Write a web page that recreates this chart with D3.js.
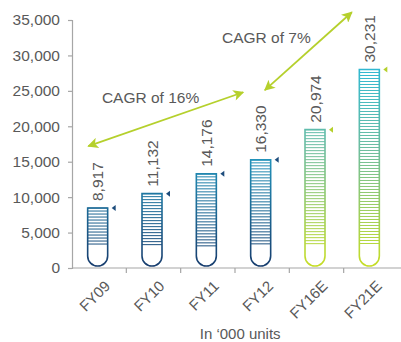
<!DOCTYPE html>
<html>
<head>
<meta charset="utf-8">
<script src="https://cdn.jsdelivr.net/npm/d3@7"></script>
<style>
  html, body { margin: 0; padding: 0; background: #fff; }
  svg { display: block; }
  text { font-family: "Liberation Sans", Arial, sans-serif; fill: #595959; }
</style>
</head>
<body>
<svg id="chart" width="401" height="342"></svg>
<script>
// Vehicle volumes, thousand units
const categories = ["FY09", "FY10", "FY11", "FY12", "FY16E", "FY21E"];
const units = [8917, 11132, 14176, 16330, 20974, 30231];
const projected = [false, false, false, false, true, true];
const yTicks = [0, 5000, 10000, 15000, 20000, 25000, 30000, 35000];

// Growth annotations: [category, band offset, axis value] for each arrow end
const cagrLabels = ["CAGR of 16%", "CAGR of 7%"];
const cagrFrom = [["FY09", -0.2, 17200], ["FY12", 0.05, 25100]];
const cagrTo = [["FY12", -0.35, 24800], ["FY21E", -0.35, 36100]];
const cagrText = [["FY09", 0.05, 23300], ["FY11", 0.26, 31750]];
const unitNote = "In \u2018000 units";

const svg = d3.select("#chart");
const axisColor = "#a6a6a6";

const x = d3.scaleBand().domain(categories).range([72, 398]).padding(0);
const y = d3.scaleLinear().domain([0, 35000]).range([268, 20]);
// tubes fill on their own slightly compressed scale, resting on the baseline
const tubeY = d3.scaleLinear().domain([0, 35000]).range([266, 38.5]);

const cx = (cat, off = 0) => x(cat) + x.bandwidth() / 2 + off * x.bandwidth();

// gradients
const defs = svg.append("defs");
const blue = defs.append("linearGradient").attr("id", "gBlue")
  .attr("gradientUnits", "userSpaceOnUse").attr("x1", 0).attr("x2", 0)
  .attr("y1", tubeY(23000)).attr("y2", tubeY(0));
blue.append("stop").attr("offset", 0).attr("stop-color", "#27b4d8");
blue.append("stop").attr("offset", 1).attr("stop-color", "#173d6e");
const green = defs.append("linearGradient").attr("id", "gGreen")
  .attr("gradientUnits", "userSpaceOnUse").attr("x1", 0).attr("x2", 0)
  .attr("y1", tubeY(33000)).attr("y2", tubeY(0));
green.append("stop").attr("offset", 0).attr("stop-color", "#22b7dc");
green.append("stop").attr("offset", 0.45).attr("stop-color", "#6dbda0");
green.append("stop").attr("offset", 1).attr("stop-color", "#c6dd26");

const lime = "#b5d02c";
const marker = defs.append("marker").attr("id", "head")
  .attr("viewBox", "0 0 10 10").attr("refX", 9).attr("refY", 5)
  .attr("markerWidth", 7).attr("markerHeight", 6)
  .attr("markerUnits", "strokeWidth")
  .attr("orient", "auto-start-reverse");
marker.append("path").attr("d", "M0,0 L10,5 L0,10 L2.5,5 Z").attr("fill", lime);

// y axis
const yAxis = svg.append("g").attr("transform", "translate(72,0)")
  .call(d3.axisLeft(y).tickValues(yTicks).tickSize(4).tickPadding(8)
    .tickFormat(d3.format(",")));
yAxis.select(".domain").attr("stroke", axisColor).attr("stroke-width", 1.2);
yAxis.selectAll(".tick line").attr("stroke", axisColor).attr("stroke-width", 1.2);
yAxis.selectAll(".tick text").style("font-size", "15.5px").attr("fill", "#595959")
  .style("font-family", "'Liberation Sans', Arial, sans-serif");

// x axis
svg.append("line").attr("x1", 72).attr("x2", 401)
  .attr("y1", y(0)).attr("y2", y(0))
  .attr("stroke", axisColor).attr("stroke-width", 1.2);
svg.selectAll(".xtick").data(categories.slice(1)).join("line")
  .attr("class", "xtick")
  .attr("x1", d => x(d)).attr("x2", d => x(d))
  .attr("y1", y(0)).attr("y2", y(0) + 5)
  .attr("stroke", axisColor).attr("stroke-width", 1.2);
svg.selectAll(".xlab").data(categories).join("text")
  .attr("class", "xlab")
  .attr("text-anchor", "end")
  .attr("transform", d => `translate(${cx(d) + 12},${y(0) + 19}) rotate(-45)`)
  .style("font-size", "15px")
  .text(d => d);

svg.append("text").attr("x", cx("FY12") - 22).attr("y", 339)
  .attr("text-anchor", "middle").style("font-size", "15px").text(unitNote);

// tubes
const tubeW = 20, r = 10, gap = 3;
const rows = categories.map((c, i) => ({ cat: c, v: units[i], proj: projected[i] }));

const tube = svg.selectAll(".tube").data(rows).join("g").attr("class", "tube")
  .attr("transform", d => `translate(${cx(d.cat) - 1.5 - tubeW / 2},0)`);

tube.append("path")
  .attr("d", d => {
    const top = tubeY(d.v), bot = tubeY(0);
    return `M0,${top} L0,${bot - r} A${r},${r} 0 0 0 ${tubeW},${bot - r} L${tubeW},${top} Z`;
  })
  .attr("fill", "#fff")
  .attr("stroke", d => d.proj ? "url(#gGreen)" : "url(#gBlue)")
  .attr("stroke-width", 1.6);

tube.each(function (d) {
  const g = d3.select(this);
  const top = tubeY(d.v), end = tubeY(0) - 2 * r;
  const ys = d3.range(top, end, gap);
  g.selectAll("line.stripe").data(ys).join("line").attr("class", "stripe")
    .attr("x1", 0).attr("x2", tubeW).attr("y1", v => v).attr("y2", v => v)
    .attr("stroke", d.proj ? "url(#gGreen)" : "url(#gBlue)")
    .attr("stroke-width", 1);
});

// small pointers next to each tube top
tube.append("path")
  .attr("d", d => {
    const t = tubeY(d.v);
    return `M${tubeW + 4},${t} L${tubeW + 8},${t - 3} L${tubeW + 8},${t + 3} Z`;
  })
  .attr("fill", d => d.proj ? lime : "#1d4c7c");

// value labels
tube.append("text")
  .attr("text-anchor", "start")
  .attr("transform", d => `translate(${tubeW / 2 + 5.5},${tubeY(d.v) - 7}) rotate(-90)`)
  .style("font-size", "15.5px")
  .text(d => d3.format(",")(d.v));

// growth arrows
cagrFrom.forEach((f, i) => {
  const t = cagrTo[i];
  svg.append("line")
    .attr("x1", cx(f[0], f[1])).attr("y1", y(f[2]))
    .attr("x2", cx(t[0], t[1])).attr("y2", y(t[2]))
    .attr("stroke", lime).attr("stroke-width", 1.8)
    .attr("marker-start", "url(#head)").attr("marker-end", "url(#head)");
  svg.append("text")
    .attr("x", cx(cagrText[i][0], cagrText[i][1])).attr("y", y(cagrText[i][2]))
    .style("font-size", "15.5px")
    .text(cagrLabels[i]);
});
</script>
</body>
</html>
